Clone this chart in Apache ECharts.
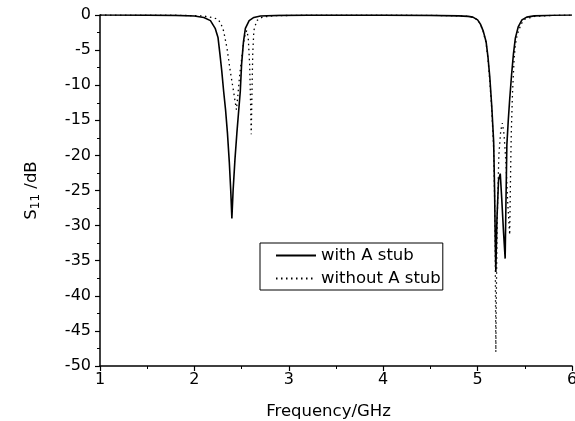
<!DOCTYPE html>
<html>
<head>
<meta charset="utf-8">
<script src="https://cdn.jsdelivr.net/npm/echarts@6/dist/echarts.min.js"></script>
<style>
html,body{margin:0;padding:0;background:#fff;}
#chart{width:575px;height:421px;}
</style>
</head>
<body>
<div id="chart"></div>
<script>
// Frequency (GHz) and S11 (dB)
var withFreq = [1.0,1.5,1.8,2.0,2.1,2.17,2.22,2.25,2.27,2.29,2.31,2.33,2.35,2.37,2.385,2.397,2.41,2.43,2.45,2.47,2.486,2.50,2.52,2.54,2.58,2.63,2.7,2.9,3.2,4.0,4.5,4.8,4.9,4.95,5.0,5.03,5.06,5.09,5.11,5.13,5.15,5.17,5.18,5.188,5.193,5.205,5.222,5.24,5.255,5.275,5.292,5.30,5.31,5.325,5.34,5.36,5.38,5.40,5.43,5.47,5.52,5.6,5.8,6.0];
var withS11  = [0,-0.02,-0.05,-0.15,-0.35,-0.8,-1.9,-3.2,-5.5,-8.0,-10.9,-13.5,-16.8,-21,-25,-29,-25,-20.5,-16.8,-13.5,-10.9,-7.0,-3.8,-1.9,-0.8,-0.35,-0.15,-0.05,-0.02,-0.02,-0.05,-0.12,-0.2,-0.3,-0.7,-1.3,-2.3,-3.8,-6.0,-9.0,-13.0,-18,-25,-33,-36.6,-29,-23.5,-22.6,-26,-31,-34.7,-27,-18.5,-15,-12,-8.5,-5.5,-3.3,-1.7,-0.7,-0.3,-0.12,-0.04,0];

var withoutFreq = [1.0,1.8,2.0,2.1,2.2,2.25,2.28,2.31,2.345,2.38,2.415,2.445,2.46,2.48,2.50,2.52,2.54,2.555,2.57,2.585,2.595,2.602,2.61,2.618,2.63,2.66,2.72,2.85,3.2,4.0,4.5,4.8,4.9,4.95,5.0,5.03,5.06,5.09,5.11,5.13,5.15,5.17,5.18,5.188,5.193,5.20,5.21,5.225,5.245,5.262,5.28,5.30,5.32,5.34,5.35,5.357,5.37,5.387,5.40,5.42,5.46,5.5,5.6,5.8,6.0];
var withoutS11  = [0,-0.03,-0.1,-0.15,-0.4,-0.6,-1.2,-2.3,-4.7,-8.0,-10.9,-13.5,-11.5,-8.5,-6.3,-4.0,-2.6,-2.2,-3.2,-7,-12.5,-17,-11,-5.5,-2.2,-0.8,-0.3,-0.1,-0.02,-0.02,-0.05,-0.12,-0.2,-0.3,-0.7,-1.3,-2.4,-4.0,-6.3,-9.5,-13.5,-19,-26,-36,-48,-38,-28,-20,-16.5,-15.4,-17,-21,-27,-31.3,-22,-16.6,-11,-6.2,-4.2,-2.8,-1.3,-0.6,-0.2,-0.05,0];

var seriesNames = ['with A stub', 'without A stub'];
var xTicks = {min: 1, max: 6, step: 1};
var yTicks = {min: -50, max: 0, step: 5};

function pairs(xs, ys){ return xs.map(function(x,i){ return [x, ys[i]]; }); }

var font = 'DejaVu Sans, Liberation Sans, sans-serif';
var chart = echarts.init(document.getElementById('chart'));
chart.setOption({
  animation: false,
  backgroundColor: '#fff',
  textStyle: {fontFamily: font, color: '#000'},
  grid: {left: 100, right: 3, top: 15, bottom: 55, outerBoundsMode: 'none', containLabel: false},
  legend: {
    orient: 'vertical',
    left: 260, top: 243,
    data: seriesNames,
    itemWidth: 40, itemHeight: 14, itemGap: 6,
    padding: [4, 2, 3, 15],
    borderColor: '#000', borderWidth: 1,
    itemStyle: {opacity: 0},
    textStyle: {fontFamily: font, fontSize: 16.5, color: '#000'}
  },
  xAxis: {
    type: 'value',
    min: xTicks.min, max: xTicks.max, interval: xTicks.step,
    name: 'Frequency/GHz', nameLocation: 'middle', nameGap: 37,
    nameTextStyle: {fontFamily: font, fontSize: 16.5, color: '#000', padding: [0, 15, 0, 0]},
    axisLine: {onZero: false, lineStyle: {color: '#000', width: 1.5}},
    axisTick: {show: true, inside: false, length: 5, lineStyle: {color: '#000', width: 1.2}},
    minorTick: {show: true, splitNumber: 2, length: 3, lineStyle: {color: '#000', width: 1}},
    axisLabel: {fontFamily: font, fontSize: 16, color: '#000', margin: 6},
    splitLine: {show: false}
  },
  yAxis: {
    type: 'value',
    min: yTicks.min, max: yTicks.max, interval: yTicks.step,
    name: '{a|S}{b|11}{a| /dB}', nameLocation: 'middle', nameGap: 58, nameRotate: 90,
    nameTextStyle: {
      rich: {
        a: {fontFamily: font, fontSize: 16.5, color: '#000'},
        b: {fontFamily: font, fontSize: 12, color: '#000', padding: [8, 0, 0, 0]}
      }
    },
    axisLine: {onZero: false, lineStyle: {color: '#000', width: 1.5}},
    axisTick: {show: true, inside: false, length: 5, lineStyle: {color: '#000', width: 1.2}},
    minorTick: {show: true, splitNumber: 2, length: 3, lineStyle: {color: '#000', width: 1}},
    axisLabel: {fontFamily: font, fontSize: 16, color: '#000', margin: 9},
    splitLine: {show: false}
  },
  series: [
    {
      name: seriesNames[0], type: 'line', symbol: 'none', smooth: false,
      data: pairs(withFreq, withS11),
      lineStyle: {color: '#000', width: 1.6}
    },
    {
      name: seriesNames[1], type: 'line', symbol: 'none', smooth: false,
      data: pairs(withoutFreq, withoutS11),
      lineStyle: {color: '#000', width: 1.3, type: [1.5, 3.5]}
    }
  ]
});
</script>
</body>
</html>
